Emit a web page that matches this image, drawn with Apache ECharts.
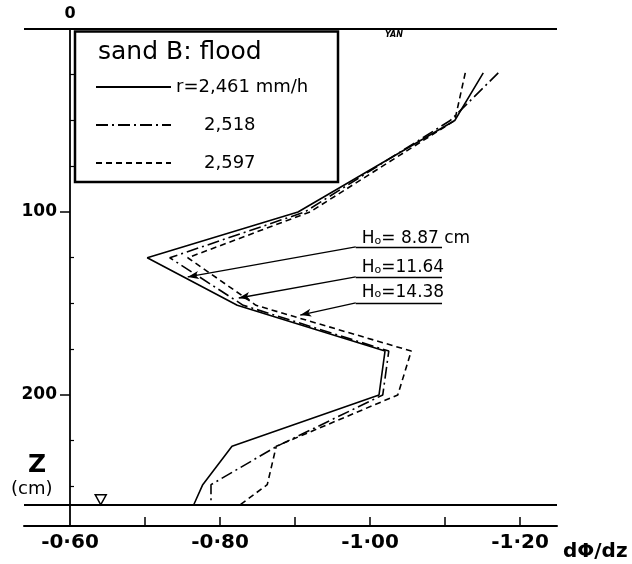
<!DOCTYPE html>
<html>
<head>
<meta charset="utf-8">
<script src="https://cdn.jsdelivr.net/npm/echarts@6/dist/echarts.min.js"></script>
<style>html,body{margin:0;padding:0;background:#fff}#c{width:632px;height:564px}</style>
</head>
<body>
<div id="c"></div>
<script>
// depth levels (cm) at the profile vertices
const Z = [24, 50, 100, 125, 151, 176, 200, 228, 249, 260];
// dPhi/dz values for each rainfall rate
const r2461 = [-1.151, -1.113, -0.904, -0.703, -0.823, -1.020, -1.012, -0.816, -0.777, -0.765];
const r2518 = [-1.171, -1.107, -0.913, -0.733, -0.831, -1.025, -1.017, -0.876, -0.788, -0.788];
const r2597 = [-1.127, -1.113, -0.920, -0.757, -0.848, -1.055, -1.037, -0.875, -0.863, -0.827];
const seriesNames = ['r=2,461 mm/h', '2,518', '2,597'];
// axis ticks / labels
const xTicks = [-0.7, -0.8, -0.9, -1.0, -1.1, -1.2];
const xLabels = [-0.6, -0.8, -1.0, -1.2];
const zMajor = [100, 200];
const zMinor = [25, 50, 75, 125, 150, 175, 225, 250];
const waterTable = 260;
// annotations (H0 values)
const annoText = [' 8.87 cm', '11.64', '14.38'];

const XMAX = -0.5387, XMIN = -1.2493, ZMAX = 271.6;
const FONT = 'DejaVu Sans';

// annotation geometry (data coords)
const annoTextX = -0.989;
const annoTextZ = [114.3, 130.6, 143.8];
const annoLineX = [-0.981, -1.096];
const annoLineZ = [119.1, 135.5, 149.7];
const annoTip = [[-0.757, 135.5], [-0.825, 147.0], [-0.907, 156.3]];

const dashes = ['solid', [12, 4, 2, 4], [6, 4]];
const vals = [r2461, r2518, r2597];

const series = vals.map((arr, i) => {
  const ml = [
    [{coord: [annoLineX[0], annoLineZ[i]], symbol: 'none'}, {coord: annoTip[i], symbol: 'arrow', symbolSize: [6, 11]}],
    [{coord: [annoLineX[0], annoLineZ[i]], symbol: 'none'}, {coord: [annoLineX[1], annoLineZ[i]], symbol: 'none'}]
  ];
  const mp = [{
    coord: [annoTextX, annoTextZ[i]], symbol: 'circle', symbolSize: 0.01,
    label: {show: true, position: 'right', distance: 0, formatter: '{h|H}{o|o}{t|=' + annoText[i] + '}',
      rich: {h: {fontSize: 17, fontFamily: FONT, color: '#000'}, o: {fontSize: 11, fontFamily: FONT, color: '#000', padding: [5, 0, 0, 0]}, t: {fontSize: 17, fontFamily: FONT, color: '#000'}}}
  }];
  if (i === 0) {
    ml.push({yAxis: 0, lineStyle: {width: 2}});
    ml.push({yAxis: waterTable, lineStyle: {width: 2}});
    mp.push({coord: [-0.641, waterTable], symbol: 'triangle', symbolRotate: 180, symbolSize: [11, 10], symbolOffset: [0, -5],
      itemStyle: {color: '#fff', borderColor: '#000', borderWidth: 1.5}, label: {show: false}});
    mp.push({coord: [-0.60, 0], symbol: 'circle', symbolSize: 0.01,
      label: {show: true, position: 'top', distance: 7, formatter: '0', fontSize: 16, fontWeight: 'bold', fontFamily: FONT, color: '#000'}});
  }
  return {
    name: seriesNames[i], type: 'line', yAxisIndex: 0, showSymbol: false, symbol: 'none',
    data: arr.map((v, k) => [v, Z[k]]),
    lineStyle: {color: '#000', width: 1.6, type: dashes[i]},
    itemStyle: {color: '#000'},
    markLine: {silent: true, symbol: ['none', 'none'], label: {show: false},
      lineStyle: {color: '#000', width: 1.3, type: 'solid'}, data: ml},
    markPoint: {silent: true, data: mp}
  };
});

const chart = echarts.init(document.getElementById('c'), null, {renderer: 'canvas'});
chart.setOption({
  animation: false,
  backgroundColor: '#fff',
  title: {text: 'sand B: flood', left: 98, top: 40, padding: 0,
    textStyle: {fontFamily: FONT, fontSize: 25, fontWeight: 'normal', color: '#000'}},
  legend: {orient: 'vertical', left: 95, top: 78, padding: 0, itemWidth: 75, itemHeight: 12, itemGap: 20,
    data: seriesNames, itemStyle: {opacity: 0},
    formatter: n => n.charAt(0) === 'r' ? n : '{p|' + n + '}',
    textStyle: {fontFamily: FONT, fontSize: 18, color: '#000', lineHeight: 18,
      rich: {p: {fontFamily: FONT, fontSize: 18, color: '#000', padding: [0, 0, 0, 28]}}}},
  grid: {left: 24, right: 75, top: 29, bottom: 38},
  xAxis: {type: 'value', inverse: true, min: XMIN, max: XMAX, position: 'bottom',
    axisLine: {onZero: false, lineStyle: {color: '#000', width: 2}},
    axisTick: {inside: true, length: 9, customValues: xTicks, lineStyle: {color: '#000', width: 1.5}},
    axisLabel: {customValues: xLabels, margin: 7, fontFamily: FONT, fontSize: 20, fontWeight: 'bold', color: '#000',
      formatter: v => '-' + Math.abs(v).toFixed(2).replace('.', '·')},
    splitLine: {show: false}},
  yAxis: [
    {type: 'value', inverse: true, min: 0, max: ZMAX, position: 'left', offset: -46,
      axisLine: {show: true, onZero: false, lineStyle: {color: '#000', width: 1.8}},
      axisTick: {show: true, length: 10, customValues: zMajor, lineStyle: {color: '#000', width: 1.5}},
      axisLabel: {customValues: zMajor, margin: 13, fontFamily: FONT, fontSize: 17, fontWeight: 'bold', color: '#000'},
      splitLine: {show: false}},
    {type: 'value', inverse: true, min: 0, max: ZMAX, position: 'left', offset: -46,
      axisLine: {show: false, onZero: false},
      axisTick: {show: true, inside: true, length: 4, customValues: zMinor, lineStyle: {color: '#000', width: 1.2}},
      axisLabel: {show: false}, splitLine: {show: false}}
  ],
  graphic: [
    {type: 'rect', shape: {x: 75, y: 31.5, width: 263, height: 150.5}, style: {fill: 'none', stroke: '#000', lineWidth: 2.5}, z: 10},
    {type: 'text', left: 385, top: 31, style: {text: 'YAN', font: 'italic bold 8px DejaVu Sans', fill: '#000'}},
    {type: 'text', left: 28, top: 453, style: {text: 'Z', font: 'bold 25px DejaVu Sans', fill: '#000'}},
    {type: 'text', left: 11, top: 480, style: {text: '(cm)', font: '18px DejaVu Sans', fill: '#000'}},
    {type: 'text', left: 563, top: 542, style: {text: 'dΦ/dz', font: 'bold 20px DejaVu Sans', fill: '#000'}}
  ],
  series: series
});
</script>
</body>
</html>
